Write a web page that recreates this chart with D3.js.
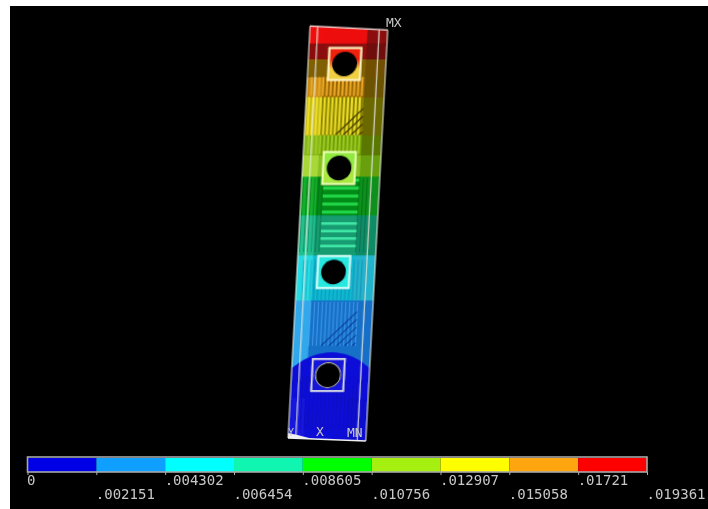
<!DOCTYPE html>
<html>
<head>
<meta charset="UTF-8">
<title></title>
<style>
  html, body {margin: 0; padding: 0; background: #fff;}
  svg {display: block;}
  text {font-family: "DejaVu Sans Mono", monospace; fill: #c8c8c8;}
</style>
</head>
<body>
<script src="https://d3js.org/d3.v7.min.js" charset="utf-8"></script>
<script>
// legend
var levels = [0, .002151, .004302, .006454, .008605, .010756, .012907, .015058, .01721, .019361];
var levelLabels = ["0", ".002151", ".004302", ".006454", ".008605", ".010756", ".012907", ".015058", ".01721", ".019361"];
var levelColors = ["#0000e6", "#0f9fff", "#00ffff", "#10f5b0", "#00ff00", "#a5f010", "#ffff00", "#ffa510", "#ff0000"];

// contour bands along the plate, bottom to top (distance from the fixed end)
var bandTop = [70, 138, 183, 223, 262, 283, 303, 341, 361, 379, 395, 412];
var bandLeft = ["#1414dc", "#30a8ec", "#28dce4", "#22c090", "#12b02a", "#a8d838", "#88b818", "#c8bc18", "#c88c18", "#806000", "#8a0808", "#f01010"];
var bandMid = ["#1010d8", "#1470c8", "#10b8d0", "#149c70", "#068a14", "#88c020", "#70a008", "#8a8400", "#9a6400", "#806000", "#900808", "#ee0808"];
var bandRight = ["#1010d0", "#1870c8", "#20b4cc", "#108c68", "#08901a", "#68a010", "#5a7804", "#6c6800", "#6c5200", "#705000", "#700808", "#8c0808"];

// blue dome top edge
var domeAcross = [0, .12, .28, .5, .72, .88, 1];
var domeTop = [70, 77, 83, 86, 83, 77, 70];

// bolt holes, bottom to top
var holeAt = [63, 166, 270, 374];
var holeEdge = ["#d8d8e8", "#d0fff8", "#eaffb0", "#fff4c0"];
var holeFillLow = ["#1414d8", "#28e8e0", "#a8e840", "#f0d040"];
var holeFillHigh = ["#1414d8", "#28e8e0", "#90e840", "#f02010"];

// white mesh edges along the plate
var meshLines = [0, .1, .89, 1];

var width = 708, height = 509;
var svg = d3.select("body").append("svg").attr("width", width).attr("height", height);
var defs = svg.append("defs");

var soft = defs.append("filter").attr("id", "soft").attr("x", "-10%").attr("y", "-10%").attr("width", "120%").attr("height", "120%");
soft.append("feGaussianBlur").attr("stdDeviation", .6);
var softText = defs.append("filter").attr("id", "softText");
softText.append("feGaussianBlur").attr("stdDeviation", .45);

svg.append("rect").attr("x", 10).attr("y", 6).attr("width", width - 10).attr("height", height - 6).attr("fill", "#000");

// plate, skewed so the contour bands stay level on screen
var plateW = 78, plateH = 412;
var x = d3.scaleLinear().domain([0, 1]).range([0, plateW]);
var y = d3.scaleLinear().domain([0, plateH]).range([0, -plateH]);
function topAt(u) { return plateH - 4 * u; }
function botAt(u) { return -3 * u; }

defs.append("clipPath").attr("id", "plateClip").append("path")
  .attr("d", d3.line()([[x(0), y(botAt(0))], [x(1), y(botAt(1))], [x(1), y(topAt(1))], [x(0), y(topAt(0))]]) + "Z");

var plateOuter = svg.append("g")
  .attr("transform", "matrix(1,0,-0.0534,1,288,438)")
  .attr("filter", "url(#soft)");
var plate = plateOuter.append("g").attr("clip-path", "url(#plateClip)");

var columns = [[0, .2, bandLeft], [.2, .74, bandMid], [.74, 1, bandRight]];
columns.forEach(function(c) {
  plate.selectAll(null).data(bandTop).enter().append("rect")
    .attr("x", x(c[0]))
    .attr("width", x(c[1]) - x(c[0]) + .5)
    .attr("y", function(d) { return y(d); })
    .attr("height", function(d, i) { return y(i ? bandTop[i - 1] : -6) - y(d) + .5; })
    .attr("fill", function(d, i) { return c[2][i]; });
});

// blue dome over the light blue band
var dome = d3.area()
  .x(function(d) { return x(d); })
  .y0(y(40))
  .y1(function(d, i) { return y(domeTop[i]); })
  .curve(d3.curveCatmullRom);
plate.append("path").datum(domeAcross).attr("d", dome).attr("fill", bandMid[0]);

// hatching inside the panels
function hatch(u0, u1, a0, a1, step, dir, color, w) {
  var g = plate.append("g").attr("stroke", color).attr("stroke-width", w);
  if (dir == "v") {
    d3.range(u0, u1, step).forEach(function(u) {
      g.append("line").attr("x1", x(u)).attr("x2", x(u)).attr("y1", y(a0)).attr("y2", y(a1));
    });
  } else if (dir == "h") {
    d3.range(a0, a1, step).forEach(function(a) {
      g.append("line").attr("x1", x(u0)).attr("x2", x(u1)).attr("y1", y(a)).attr("y2", y(a));
    });
  } else {
    d3.range(u0, u1, step).forEach(function(u) {
      g.append("line").attr("x1", x(u)).attr("x2", x(Math.min(u1, u + (a1 - a0) / plateW)))
        .attr("y1", y(a0)).attr("y2", y(a0 + Math.min(a1 - a0, (u1 - u) * plateW)));
    });
  }
}
hatch(.06, .74, 342, 361, .05, "v", "#e8a828", 2);
hatch(.04, .74, 303, 341, .05, "v", "#ecdc28", 2);
hatch(.4, .74, 303, 341, .1, "d", "rgba(60,55,0,.9)", 1.6);
hatch(.06, .72, 284, 303, .05, "v", "#a0cc20", 1.8);
hatch(.28, .74, 226, 260, 8, "h", "#20d848", 3);
hatch(.28, .74, 192, 222, 7.5, "h", "#40e8a8", 2.6);
hatch(.02, .28, 186, 260, .05, "v", "rgba(0,50,20,.3)", 1);
hatch(.74, .89, 186, 260, .05, "v", "rgba(0,50,20,.3)", 1);
hatch(.08, .9, 138, 178, .05, "v", "rgba(10,70,130,.35)", .9);
hatch(.2, .8, 92, 136, .05, "v", "rgba(90,180,250,.5)", 1.3);
hatch(.36, .8, 92, 136, .1, "d", "rgba(5,50,150,.7)", 1.4);
hatch(.1, .9, 8, 62, .05, "v", "rgba(0,0,110,.25)", 1);

// outline and mesh lines
plateOuter.selectAll(".mesh").data(meshLines).enter().append("line")
  .attr("class", "mesh")
  .attr("x1", function(d) { return x(d); })
  .attr("x2", function(d) { return x(d); })
  .attr("y1", function(d) { return y(botAt(d)); })
  .attr("y2", function(d) { return y(topAt(d)); })
  .attr("stroke", "#e8eedd")
  .attr("stroke-opacity", .75)
  .attr("stroke-width", 1.3);
plateOuter.append("line").attr("x1", x(0)).attr("x2", x(1)).attr("y1", y(topAt(0))).attr("y2", y(topAt(1)))
  .attr("stroke", "#f4dcdc").attr("stroke-width", 1.3);
plateOuter.append("line").attr("x1", x(0)).attr("x2", x(1)).attr("y1", y(botAt(0))).attr("y2", y(botAt(1)))
  .attr("stroke", "#f0f0f0").attr("stroke-width", 1.5);
plateOuter.append("path")
  .attr("d", d3.line()([[x(0), y(0)], [x(0), y(5)], [x(.12), y(3)], [x(.32), y(botAt(.32))]]))
  .attr("fill", "#f0f0f0");

// holes with their square washers
holeAt.forEach(function(h, i) {
  var gid = "washer" + i;
  var grad = defs.append("linearGradient").attr("id", gid).attr("x1", 0).attr("y1", 1).attr("x2", 0).attr("y2", 0);
  grad.append("stop").attr("offset", "35%").attr("stop-color", holeFillLow[i]);
  grad.append("stop").attr("offset", "65%").attr("stop-color", holeFillHigh[i]);
  var cx = x(.47);
  plateOuter.append("rect")
    .attr("x", cx - 16).attr("y", y(h) - 16).attr("width", 32).attr("height", 32)
    .attr("fill", "url(#" + gid + ")")
    .attr("stroke", holeEdge[i]).attr("stroke-width", i == 0 ? 1.8 : 2);
  plateOuter.append("circle")
    .attr("cx", cx).attr("cy", y(h)).attr("r", 12.5)
    .attr("fill", "#000")
    .attr("stroke", i == 0 ? "#a8a8a0" : "none").attr("stroke-width", 1);
});

// labels on the model
var tags = svg.append("g").attr("filter", "url(#softText)").attr("font-size", 13);
tags.append("text").attr("x", 386).attr("y", 27).text("MX");
tags.append("text").attr("x", 316).attr("y", 436).text("X");
tags.append("text").attr("x", 347).attr("y", 437).text("MN");
tags.append("text").attr("x", 288).attr("y", 436).attr("font-size", 10).text("Y");

// legend bar
var legendScale = d3.scaleLinear().domain([0, levels[levels.length - 1]]).range([27.5, 647]);
var legend = svg.append("g").attr("transform", "translate(0,472)");

legend.selectAll(".MyRect").data(levelColors).enter().append("rect")
  .attr("class", "MyRect")
  .attr("x", function(d, i) { return legendScale(levels[i]); })
  .attr("y", -14)
  .attr("width", function(d, i) { return legendScale(levels[i + 1]) - legendScale(levels[i]); })
  .attr("height", 14)
  .attr("fill", function(d) { return d; });

legend.append("rect")
  .attr("x", legendScale(0)).attr("y", -15)
  .attr("width", legendScale.range()[1] - legendScale.range()[0]).attr("height", 15)
  .attr("fill", "none").attr("stroke", "#a8a8a8").attr("stroke-width", 1.6);

var legendAxis = d3.axisBottom(legendScale)
  .tickValues(levels)
  .tickSize(3)
  .tickFormat(function(d, i) { return levelLabels[i]; });

var axisG = legend.append("g").call(legendAxis);
axisG.select(".domain").remove();
axisG.selectAll(".tick line").attr("stroke", "#b0b0b0");
axisG.attr("font-family", null).attr("font-size", null);
axisG.selectAll(".tick text")
  .attr("filter", "url(#softText)")
  .attr("text-anchor", "start")
  .attr("x", -1)
  .attr("y", function(d, i) { return i % 2 ? 17 : 3; })
  .attr("dy", "0.71em")
  .style("font-size", "14px")
  .style("font-family", '"DejaVu Sans Mono", monospace')
  .attr("fill", "#c8c8c8");
</script>
</body>
</html>
